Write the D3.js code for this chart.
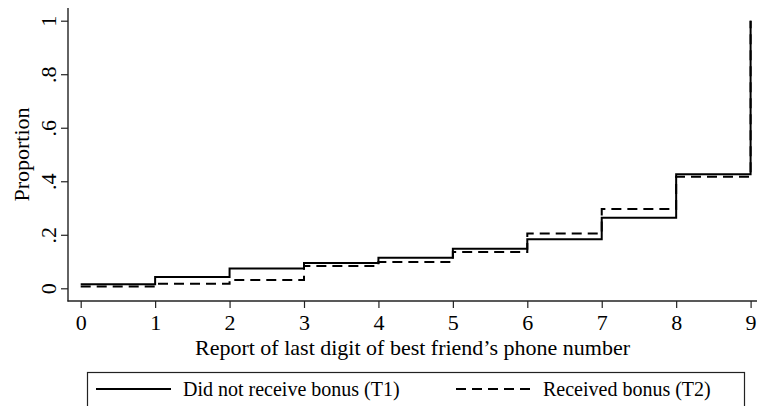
<!DOCTYPE html>
<html><head><meta charset="utf-8">
<script src="https://cdn.jsdelivr.net/npm/d3@7"></script>
<style>
html,body{margin:0;padding:0;background:#fff;}
svg{display:block;}
text{font-family:"Liberation Serif","Times New Roman",serif;fill:#000;}
</style></head>
<body>
<div id="chart"></div>
<script>
const digits = [0,1,2,3,4,5,6,7,8,9];
const noBonusT1 = [0.015,0.042,0.074,0.095,0.114,0.148,0.183,0.264,0.426,1.0];
const bonusT2   = [0.007,0.017,0.031,0.083,0.098,0.136,0.205,0.296,0.417,1.0];
const yTicks = [0,0.2,0.4,0.6,0.8,1];
const yTickLabels = ["0",".2",".4",".6",".8","1"];
const seriesNames = ["Did not receive bonus (T1)","Received bonus (T2)"];
const xTitle = "Report of last digit of best friend\u2019s phone number";
const yTitle = "Proportion";

const W = 758, H = 406;
const svg = d3.select("#chart").append("svg").attr("width", W).attr("height", H);

const x = d3.scaleLinear().domain([0,9]).range([80.7,750.6]);
const y = d3.scaleLinear().domain([0,1]).range([288.3,20.7]);

const axisLeftX = 68, axisBottomY = 301;

// y axis
const yAxis = svg.append("g").attr("transform",`translate(${axisLeftX},0)`)
  .call(d3.axisLeft(y).tickValues(yTicks).tickSize(7).tickFormat((d,i)=>yTickLabels[i]));
yAxis.select(".domain").remove();
yAxis.selectAll(".tick line").attr("stroke","#222").attr("stroke-width",1.2);
yAxis.selectAll(".tick text")
  .attr("x",null).attr("dy",null)
  .attr("transform","translate(-20,0) rotate(-90)")
  .attr("text-anchor","middle").attr("dominant-baseline","central")
  .style("font-size","22px").style("font-family","'Liberation Serif',serif");
svg.append("line").attr("x1",axisLeftX).attr("x2",axisLeftX).attr("y1",8).attr("y2",axisBottomY+0.5)
  .attr("stroke","#222").attr("stroke-width",1.4);

// x axis
const xAxis = svg.append("g").attr("transform",`translate(0,${axisBottomY})`)
  .call(d3.axisBottom(x).tickValues(digits).tickSize(7).tickFormat(d3.format("d")));
xAxis.select(".domain").remove();
xAxis.selectAll(".tick line").attr("stroke","#222").attr("stroke-width",1.2);
xAxis.selectAll(".tick text").attr("y",null).attr("dy",null)
  .attr("transform","translate(0,29)")
  .style("font-size","22px").style("font-family","'Liberation Serif',serif");
svg.append("line").attr("x1",axisLeftX-0.5).attr("x2",757).attr("y1",axisBottomY).attr("y2",axisBottomY)
  .attr("stroke","#222").attr("stroke-width",1.4);

// titles
svg.append("text").attr("x",(axisLeftX+757)/2).attr("y",355).attr("text-anchor","middle")
  .style("font-size","22px").text(xTitle);
svg.append("text").attr("transform",`translate(29,${(8+axisBottomY)/2}) rotate(-90)`)
  .attr("text-anchor","middle").style("font-size","22px").text(yTitle);

// lines
const line = d3.line().x((d,i)=>x(digits[i])).y(d=>y(d)).curve(d3.curveStepAfter);
svg.append("path").datum(noBonusT1).attr("d",line).attr("fill","none")
  .attr("stroke","#000").attr("stroke-width",2);
svg.append("path").datum(bonusT2).attr("d",line).attr("fill","none")
  .attr("stroke","#000").attr("stroke-width",2).attr("stroke-dasharray","10,6");

// legend
const lg = svg.append("g");
lg.append("rect").attr("x",87.5).attr("y",372.5).attr("width",657).attr("height",50)
  .attr("fill","none").attr("stroke","#222").attr("stroke-width",1.2);
lg.append("line").attr("x1",96).attr("x2",171).attr("y1",389).attr("y2",389)
  .attr("stroke","#000").attr("stroke-width",2);
lg.append("text").attr("x",183).attr("y",396).style("font-size","20px").text(seriesNames[0]);
lg.append("line").attr("x1",456).attr("x2",532).attr("y1",389).attr("y2",389)
  .attr("stroke","#000").attr("stroke-width",2).attr("stroke-dasharray","10,6");
lg.append("text").attr("x",543).attr("y",396).style("font-size","20px").text(seriesNames[1]);
</script>
</body></html>
